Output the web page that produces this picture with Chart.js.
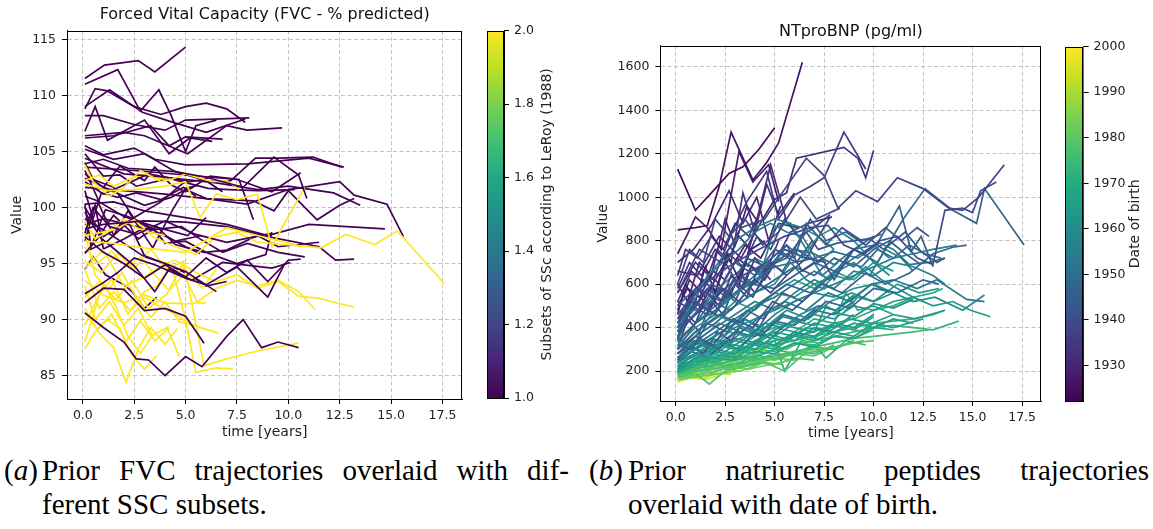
<!DOCTYPE html>
<html lang="en">
<head>
<meta charset="UTF-8">
<title>Prior trajectories</title>
<script src="https://cdn.jsdelivr.net/npm/chart.js"></script>
<style>
    body {
        margin: 0;
        width: 1153px;
        height: 529px;
        position: relative;
        overflow: hidden;
        background: #fff;
    }

    .box {
        position: absolute;
        top: 0;
        height: 445px;
    }

    .cap {
        position: absolute;
        font-family: "Liberation Serif", serif;
        font-size: 29px;
        line-height: 34px;
        color: #000;
        white-space: nowrap;
    }

    .just {
        text-align: justify;
        text-align-last: justify;
    }
</style>
</head>
<body>

<div class="box" style="left:0; width:475px"><canvas id="fvc"></canvas></div>
<div class="box" style="left:480px; width:90px"><canvas id="fvcBar"></canvas></div>
<div class="box" style="left:590px; width:462px"><canvas id="bnp"></canvas></div>
<div class="box" style="left:1058px; width:95px"><canvas id="bnpBar"></canvas></div>

<div class="cap" style="left:4px; top:453px">(<i>a</i>)</div>
<div class="cap just" style="left:42px; top:453px; width:527px">Prior FVC trajectories overlaid with dif-</div>
<div class="cap" style="left:42px; top:487px">ferent SSC subsets.</div>

<div class="cap" style="left:589px; top:453px">(<i>b</i>)</div>
<div class="cap just" style="left:628px; top:453px; width:521px">Prior natriuretic peptides trajectories</div>
<div class="cap" style="left:628px; top:487px">overlaid with date of birth.</div>

<script>
    // tick labels
    const timeTicks = [0, 2.5, 5, 7.5, 10, 12.5, 15, 17.5];
    const fvcTicks = [85, 90, 95, 100, 105, 110, 115];
    const bnpTicks = [200, 400, 600, 800, 1000, 1200, 1400, 1600];
    const subsetTicks = [1.0, 1.2, 1.4, 1.6, 1.8, 2.0];
    const birthTicks = [1930, 1940, 1950, 1960, 1970, 1980, 1990, 2000];

    // FVC (% predicted): SSc subset of each patient and its [time, value] trajectory
    const fvcSubset = [1, 1, 1, 1, 1, 1, 1, 1, 1, 1, 2, 2, 2, 1, 1, 1, 1, 1, 1, 2, 2, 2, 1, 1, 1, 1, 1, 1, 2, 2, 2, 2, 1, 1, 1, 1, 1, 1, 1, 2, 2, 2, 2, 2, 2, 2, 1, 1, 1, 1, 1, 2, 2, 1, 1, 1, 1];
    const fvcTraj = [
        [[0.1, 111.5], [1.05, 112.7], [2.7, 113.1], [3.5, 112.1], [5.0, 114.3]],
        [[0.1, 111.0], [1.7, 112.3], [2.8, 108.6], [3.7, 110.5], [4.3, 108.2], [5.0, 105.0], [5.5, 107.3], [6.5, 107.8]],
        [[0.1, 108.8], [0.6, 110.6], [1.2, 110.4], [2.5, 109.0], [3.8, 108.3], [5.0, 109.0], [6.0, 109.3], [7.0, 108.8], [7.9, 107.6]],
        [[0.1, 109.0], [1.3, 110.5], [2.9, 108.5], [4.2, 107.7], [6.0, 106.7], [7.9, 107.9]],
        [[0.1, 108.2], [1.0, 108.2], [2.5, 107.4], [4.0, 106.9], [5.0, 107.8], [8.1, 108.0]],
        [[0.1, 106.8], [0.6, 109.0], [1.2, 106.0], [2.2, 107.0], [3.0, 107.8], [4.2, 104.8], [5.2, 106.2], [6.3, 105.9]],
        [[0.1, 106.4], [2.0, 106.7], [3.0, 106.4], [5.1, 104.8], [7.0, 107.3], [8.0, 106.9], [9.7, 107.1]],
        [[0.1, 106.2], [1.5, 106.4], [3.3, 107.3], [4.2, 105.5], [5.0, 106.3], [6.8, 106.1]],
        [[0.1, 105.5], [1.0, 104.7], [2.5, 105.3], [3.5, 104.3], [5.0, 103.8], [8.0, 103.9], [11.0, 104.4], [12.7, 103.6]],
        [[0.1, 105.2], [1.5, 104.3], [3.0, 104.8], [4.5, 103.2], [6.0, 102.7], [7.8, 101.8], [9.3, 104.5], [10.5, 102.9], [10.9, 100.8]],
        [[0.1, 97.0], [1.5, 96.8], [3.0, 96.4], [5.0, 96.0], [7.0, 98.2], [8.5, 97.5], [10.5, 96.6], [11.6, 96.4], [12.8, 97.6], [14.2, 96.7], [15.3, 97.9], [17.6, 93.2]],
        [[0.1, 102.1], [1.2, 101.5], [2.5, 101.6], [4.0, 101.9], [5.0, 102.3], [5.7, 99.1], [6.5, 101.2], [7.5, 100.7], [8.5, 101.2], [9.2, 96.5], [10.0, 99.2], [10.8, 101.8]],
        [[0.1, 103.8], [0.5, 102.3], [1.3, 101.0], [2.0, 101.8], [2.8, 103.3], [3.5, 102.6], [4.3, 102.5], [5.0, 103.0], [6.3, 102.3], [7.0, 102.4], [7.6, 101.6]],
        [[0.1, 104.4], [2.0, 103.0], [4.0, 102.7], [6.5, 102.2], [8.5, 101.6], [10.0, 101.9], [12.2, 101.3], [13.5, 100.2]],
        [[0.1, 103.9], [1.0, 104.3], [2.2, 103.5], [4.5, 103.2], [6.2, 102.3], [7.2, 102.4], [8.4, 104.4], [9.5, 104.4], [11.2, 104.5], [12.6, 103.6]],
        [[0.1, 101.8], [2.0, 101.5], [4.0, 101.2], [6.0, 100.8], [8.0, 100.3], [10.0, 101.6], [12.5, 102.3], [13.2, 101.1], [14.8, 100.3], [15.6, 97.4]],
        [[0.1, 100.3], [1.5, 100.5], [3.0, 99.7], [5.0, 99.1], [7.0, 98.5], [9.0, 97.5], [11.0, 98.5], [14.7, 98.1]],
        [[0.1, 98.1], [1.0, 98.5], [3.0, 98.8], [5.0, 98.7], [7.0, 98.3], [9.0, 97.4], [11.5, 96.5], [12.3, 95.3], [13.2, 95.4]],
        [[0.1, 97.7], [0.5, 100.0], [1.3, 98.3], [2.6, 97.6], [4.0, 98.8], [5.5, 97.6], [7.0, 96.9], [9.2, 97.7]],
        [[0.1, 102.4], [0.8, 102.9], [1.5, 101.9], [2.3, 102.6], [3.1, 103.0], [3.8, 102.3], [4.8, 102.8]],
        [[0.1, 97.5], [1.5, 98.0], [2.5, 98.9], [3.5, 97.3], [4.5, 96.5], [5.5, 95.8], [6.5, 97.4], [7.5, 97.8], [8.5, 96.9], [9.8, 96.7], [10.8, 96.5]],
        [[0.1, 98.8], [0.6, 97.2], [1.2, 97.8], [2.0, 99.0], [2.6, 98.2], [3.2, 97.8], [4.0, 97.5]],
        [[0.1, 92.3], [1.0, 93.3], [1.7, 94.2], [2.5, 95.5], [3.5, 94.9], [5.0, 93.7], [6.0, 93.1], [7.5, 94.7], [9.0, 92.0], [9.8, 94.9]],
        [[0.1, 90.6], [1.0, 89.3], [2.0, 88.0], [2.6, 86.5], [3.2, 86.4], [4.0, 85.0], [5.0, 86.7], [5.8, 85.8], [7.0, 88.5], [7.8, 90.0], [8.7, 87.5], [9.5, 88.0], [10.5, 87.5]],
        [[0.1, 91.5], [1.0, 92.8], [2.0, 92.7], [3.0, 90.8], [4.0, 91.0], [5.0, 90.3], [5.9, 87.9]],
        [[0.1, 97.4], [1.0, 96.0], [2.0, 95.0], [3.0, 93.7], [4.0, 94.9], [5.0, 93.8], [6.0, 95.5], [7.0, 94.2], [8.0, 95.3], [9.0, 93.4], [10.0, 95.3], [10.6, 95.4]],
        [[0.1, 103.3], [0.8, 100.5], [2.0, 99.2], [3.5, 98.3], [5.1, 97.5], [6.0, 99.1]],
        [[0.1, 100.0], [1.0, 97.4], [2.2, 98.8], [3.0, 95.7], [4.0, 95.0], [5.0, 94.3], [6.5, 92.5]],
        [[0.1, 94.6], [1.0, 96.2], [2.0, 93.0], [3.0, 93.8], [4.0, 95.0], [4.5, 95.3], [5.5, 94.2], [6.5, 93.4], [7.5, 94.0], [8.5, 92.8], [9.5, 93.4], [10.5, 92.1], [11.5, 91.9], [13.2, 91.1]],
        [[0.1, 93.5], [1.0, 92.2], [2.0, 91.5], [3.0, 92.2], [4.0, 91.5], [5.0, 91.4], [5.5, 91.5], [6.5, 92.8], [7.5, 93.5], [8.5, 93.0], [9.5, 93.5], [10.5, 92.5], [11.3, 90.9]],
        [[0.1, 88.0], [0.5, 90.4], [1.0, 93.3], [1.6, 91.2], [2.2, 88.5], [2.8, 87.0], [3.4, 88.6], [4.1, 89.3], [4.7, 86.7]],
        [[0.1, 87.4], [0.6, 88.9], [1.2, 90.0], [1.8, 89.2], [2.4, 86.8], [3.0, 85.6], [3.6, 86.8]],
        [[0.1, 102.3], [1.0, 101.2], [2.0, 102.0], [3.2, 103.0], [5.2, 102.3], [5.9, 102.5], [6.8, 101.4]],
        [[0.1, 99.6], [0.8, 97.5], [1.5, 99.3], [2.7, 97.2], [3.6, 98.3], [4.5, 96.7], [5.9, 96.0], [7.0, 96.2], [8.5, 97.5], [9.5, 96.5], [11.5, 96.9]],
        [[0.1, 103.0], [1.0, 101.8], [1.8, 103.7], [3.0, 102.4], [3.5, 103.6], [4.3, 102.0], [5.0, 101.4], [6.2, 102.8], [7.6, 102.5], [8.3, 98.9]],
        [[0.1, 102.6], [1.4, 101.5], [3.0, 100.2], [4.3, 100.9], [5.0, 101.6], [6.0, 100.8], [8.3, 100.6], [9.3, 99.7], [10.0, 101.5], [11.4, 98.9], [12.5, 100.2], [13.2, 100.8]],
        [[0.1, 101.0], [0.7, 100.6], [1.5, 97.5], [2.2, 99.7], [3.4, 96.4], [4.4, 99.9], [5.0, 101.7], [5.6, 102.0]],
        [[0.1, 95.9], [0.8, 97.4], [1.4, 96.5], [2.5, 94.8], [3.5, 92.5], [4.2, 94.5], [5.3, 93.5], [6.8, 95.1], [9.2, 94.6], [10.1, 95.1]],
        [[0.1, 104.0], [0.5, 102.5], [1.5, 101.8], [2.5, 99.0], [3.5, 98.0], [4.0, 96.8], [5.0, 97.0], [6.0, 96.0], [7.5, 95.0], [8.9, 95.8], [9.2, 97.8]],
        [[0.1, 91.0], [0.8, 88.8], [1.5, 87.5], [2.1, 84.4], [2.7, 87.4], [3.3, 89.3], [4.0, 87.8], [4.6, 89.2]],
        [[0.1, 89.5], [0.8, 92.2], [1.4, 93.6], [2.2, 90.5], [3.0, 92.5], [3.6, 93.0], [4.3, 94.9], [5.0, 90.0], [5.5, 85.3], [6.5, 85.7], [7.3, 85.6]],
        [[0.1, 92.0], [0.8, 93.4], [1.6, 91.8], [2.4, 93.5], [3.2, 91.0], [4.1, 92.3], [4.8, 94.8], [5.8, 92.8], [6.5, 94.5]],
        [[0.1, 95.2], [0.9, 94.2], [1.7, 95.9], [2.5, 94.5], [3.3, 96.3], [4.1, 94.5], [4.9, 95.2], [5.9, 85.9], [7.0, 86.5], [8.5, 87.2], [10.5, 87.9]],
        [[0.1, 97.8], [0.6, 94.0], [1.2, 92.6], [1.9, 94.2], [2.6, 92.0], [3.3, 90.2], [4.0, 91.6], [4.7, 89.8], [5.5, 89.5]],
        [[0.1, 96.5], [0.7, 95.0], [1.4, 96.1], [2.1, 94.7], [2.8, 95.6], [3.5, 94.0], [4.2, 92.6], [4.9, 94.0], [5.6, 91.5], [6.0, 91.5]],
        [[0.1, 90.7], [0.7, 89.1], [1.4, 90.5], [2.1, 88.0], [2.8, 89.9], [3.5, 88.1], [4.2, 89.3]],
        [[0.1, 100.3], [0.4, 96.5], [1.1, 99.8], [2.2, 99.2], [3.2, 98.2], [4.5, 97.0], [5.8, 97.5]],
        [[0.1, 96.0], [1.2, 97.0], [2.4, 99.0], [3.8, 100.5], [4.7, 101.9], [5.1, 102.5]],
        [[0.1, 99.0], [1.0, 98.0], [2.0, 96.8], [3.0, 95.6], [4.0, 95.0], [5.2, 94.0], [6.0, 93.0], [7.0, 93.4]],
        [[0.1, 103.6], [2.5, 103.3], [5.0, 102.9], [7.5, 102.5], [9.2, 101.4], [10.6, 103.1]],
        [[0.1, 101.5], [0.5, 99.0], [0.9, 101.3], [1.7, 100.9], [2.6, 101.3], [3.8, 100.7], [4.9, 101.8], [5.5, 101.0]],
        [[0.1, 94.5], [0.8, 91.0], [1.5, 92.5], [2.3, 90.8], [3.0, 92.0], [3.7, 91.2], [4.5, 90.5], [5.2, 89.6], [6.6, 88.8]],
        [[0.1, 93.0], [0.6, 90.0], [1.3, 91.6], [2.0, 89.5], [2.7, 91.0], [3.4, 88.5]],
        [[0.1, 97.0], [0.6, 100.2], [1.0, 96.3], [2.0, 97.2], [2.8, 98.0], [4.0, 97.5], [5.0, 96.5], [5.7, 95.9]],
        [[0.1, 94.5], [0.5, 95.6], [1.1, 94.0], [2.0, 93.1], [2.4, 92.5], [3.0, 91.0], [3.6, 92.0]],
        [[0.1, 104.8], [1.0, 102.8], [1.8, 102.9], [2.6, 101.9], [4.2, 102.6], [6.1, 101.7], [7.1, 101.6], [8.5, 101.5], [10.3, 101.6]],
        [[0.1, 98.5], [1.0, 99.0], [3.3, 98.0], [4.8, 98.3], [5.7, 97.2], [6.8, 96.0], [8.0, 96.8], [9.5, 96.0], [10.8, 95.6]]
    ];

    // NTproBNP (pg/ml): date of birth of each patient and its [time, value] trajectory
    const bnpBirth = [1938, 1940, 1942, 1944, 1946, 1948, 1939, 1941, 1943, 1945, 1947, 1949, 1937,
        1952, 1954, 1956, 1958, 1960, 1962, 1964, 1966, 1953, 1955, 1957, 1959, 1961, 1963, 1965, 1967,
        1928, 1938, 1941, 1945, 1950, 1936, 1933, 1947, 1958, 1962, 1968, 1951,
        1943, 1946, 1950, 1955, 1966, 1957,
        1924, 1926, 1929, 1931, 1933, 1935, 1932, 1930, 1934, 1936,
        1930, 1934, 1937, 1939, 1935, 1931,
        1970, 1972, 1974, 1976, 1978, 1980, 1982, 1985, 1969, 1971, 1973, 1975, 1977, 1979, 1983, 1987, 1990, 1995, 1998,
        1960, 1963, 1966, 1972, 1975, 1978, 1981, 1984, 1988, 1992];
    const bnpTraj = [
        [[0.1, 560], [1.2, 760], [2.3, 700], [3.3, 860], [4.5, 900], [5.3, 1010], [6.6, 1180], [7.5, 1100], [8.2, 950], [9.1, 1030], [10.2, 980], [11.2, 1090], [12.5, 1040], [13.8, 950], [14.5, 940], [15.3, 1000], [16.6, 1150]],
        [[0.1, 420], [1.0, 560], [2.0, 640], [3.0, 700], [4.2, 760], [5.5, 820], [6.8, 860], [7.7, 870], [8.5, 780], [9.5, 740], [10.3, 800], [11.2, 820], [12.2, 720], [13.0, 690], [13.6, 940], [14.5, 950], [15.0, 930], [15.4, 1030], [16.2, 1070]],
        [[0.1, 460], [1.2, 580], [2.3, 520], [3.4, 640], [4.6, 700], [5.6, 780], [6.4, 660], [7.4, 720], [8.0, 620], [9.0, 760], [10.0, 820]],
        [[0.1, 400], [0.9, 480], [1.8, 600], [2.6, 560], [3.6, 720], [4.6, 680], [5.6, 720], [6.6, 840], [7.2, 760], [8.2, 790], [9.8, 810], [10.5, 760], [11.6, 840], [12.4, 750], [13.2, 700], [13.6, 720]],
        [[0.1, 340], [1.0, 420], [1.8, 520], [2.8, 480], [3.9, 600], [5.0, 580], [6.0, 640], [7.0, 700], [8.0, 660], [9.0, 720], [10.2, 790], [11.3, 960], [11.9, 750], [12.4, 820], [13.0, 680]],
        [[0.1, 300], [1.0, 380], [2.2, 460], [3.2, 420], [4.4, 520], [5.6, 600], [6.8, 560], [7.9, 640], [9.0, 760], [10.2, 700], [11.5, 900], [12.6, 1040], [14.0, 940], [15.2, 880], [15.6, 1040], [17.6, 780]],
        [[0.1, 600], [0.7, 760], [1.4, 700], [2.0, 900], [2.7, 820], [3.5, 900], [4.4, 780], [5.2, 840], [6.3, 1000], [7.1, 900], [8.3, 950]],
        [[0.1, 360], [1.0, 520], [2.0, 460], [2.9, 620], [3.9, 540], [4.8, 700], [5.6, 640], [6.6, 720], [7.6, 700]],
        [[0.1, 280], [1.0, 360], [1.9, 320], [2.9, 440], [3.9, 400], [4.9, 520], [5.9, 480], [6.9, 560]],
        [[0.1, 500], [1.0, 580], [2.0, 540], [3.0, 700], [4.0, 640], [5.0, 760], [6.0, 720], [6.6, 880], [7.6, 780], [8.4, 860], [9.4, 800], [10.4, 830]],
        [[0.1, 320], [0.8, 300], [1.6, 420], [2.6, 380], [3.6, 480], [4.4, 440], [5.4, 560], [6.4, 520], [7.4, 600], [8.4, 560], [9.6, 650], [10.6, 600], [11.8, 650], [13.0, 740], [14.0, 770], [14.7, 780]],
        [[0.1, 260], [1.2, 340], [2.2, 300], [3.2, 400], [4.3, 360], [5.4, 460], [6.5, 430], [7.6, 520], [8.8, 490], [10.0, 580], [11.2, 560], [12.5, 620], [13.3, 600]],
        [[0.1, 440], [0.8, 520], [1.6, 480], [2.4, 580], [3.2, 520], [4.0, 620], [4.8, 560], [5.6, 640]],
        [[0.1, 300], [1.0, 420], [2.0, 480], [3.0, 560], [4.0, 620], [5.0, 680], [6.0, 700], [7.0, 720], [8.0, 750], [9.2, 720], [10.3, 790], [11.0, 760], [11.8, 690], [12.8, 700], [13.6, 720]],
        [[0.1, 260], [1.1, 340], [2.2, 420], [3.3, 380], [4.4, 460], [5.5, 520], [6.6, 480], [7.7, 560], [8.8, 520], [9.9, 600], [11.0, 620], [12.2, 580], [13.2, 620], [14.7, 530], [15.6, 520]],
        [[0.1, 240], [1.0, 300], [2.0, 360], [3.0, 420], [4.0, 380], [5.0, 460], [6.0, 520], [7.0, 560], [8.0, 600], [9.0, 640], [10.0, 680], [11.0, 720], [12.0, 740], [13.0, 760], [14.2, 780]],
        [[0.1, 280], [1.0, 360], [1.8, 460], [2.6, 520], [3.4, 580], [4.2, 620], [5.0, 860], [5.7, 880], [6.4, 860], [7.2, 820], [8.0, 860], [9.0, 800], [10.0, 700], [10.8, 640]],
        [[0.1, 220], [1.0, 280], [2.0, 340], [3.0, 400], [4.0, 440], [5.0, 480], [6.0, 520], [7.0, 560], [8.0, 540], [9.0, 580], [10.0, 600], [11.0, 560], [12.0, 520], [13.1, 540], [14.5, 480], [15.6, 550]],
        [[0.1, 240], [1.2, 320], [2.3, 380], [3.4, 440], [4.5, 400], [5.6, 480], [6.7, 440], [7.8, 520], [8.9, 560], [10.0, 520], [11.2, 600], [12.3, 560], [13.3, 580]],
        [[0.1, 200], [1.0, 260], [2.0, 300], [3.0, 340], [4.0, 380], [5.0, 360], [6.0, 420], [7.0, 460], [8.0, 440], [9.0, 500], [10.0, 480], [11.0, 520], [12.0, 540], [13.0, 500], [14.0, 520], [14.9, 480], [15.9, 450]],
        [[0.1, 220], [1.1, 260], [2.2, 320], [3.3, 300], [4.4, 360], [5.5, 340], [6.6, 400], [7.7, 380], [8.8, 440], [9.9, 420], [11.0, 460], [12.1, 440], [13.6, 480]],
        [[0.1, 340], [0.8, 500], [1.6, 640], [2.4, 700], [3.2, 760], [4.0, 840], [4.8, 880], [5.6, 840], [6.4, 820], [7.2, 700], [8.0, 760]],
        [[0.1, 380], [1.0, 560], [2.0, 680], [3.0, 800], [4.0, 860], [5.0, 900], [5.8, 880], [6.6, 760], [7.4, 640], [8.2, 700]],
        [[0.1, 300], [1.0, 380], [2.0, 440], [3.0, 500], [4.0, 560], [5.0, 600], [5.8, 700], [6.6, 620], [7.4, 580], [8.2, 660], [9.0, 700], [9.8, 640], [10.6, 760], [11.4, 720], [12.0, 660]],
        [[0.1, 260], [0.9, 340], [1.8, 300], [2.7, 380], [3.6, 360], [4.5, 420], [5.4, 400], [6.3, 460], [7.2, 500], [8.1, 480], [9.0, 540], [9.9, 600], [10.8, 560]],
        [[0.1, 320], [1.0, 400], [2.0, 460], [3.0, 420], [4.0, 500], [5.0, 560], [6.0, 540], [7.0, 600], [8.0, 640], [8.8, 620], [9.6, 680], [10.4, 620], [11.2, 580], [12.0, 540], [12.5, 520]],
        [[0.1, 260], [1.0, 300], [2.0, 340], [3.0, 320], [4.0, 380], [5.0, 420], [6.0, 400], [7.0, 380], [7.6, 500], [8.4, 460], [9.2, 540], [10.0, 520], [11.0, 560]],
        [[0.1, 240], [1.0, 280], [2.0, 260], [3.0, 320], [4.0, 300], [5.0, 360], [6.0, 340], [7.0, 400], [8.0, 380], [9.0, 420], [10.0, 400], [11.0, 440], [12.0, 420]],
        [[0.1, 200], [1.0, 240], [2.0, 280], [3.0, 260], [4.0, 320], [5.0, 300], [6.0, 360], [7.0, 340], [8.0, 380], [9.0, 360], [10.0, 420], [11.0, 400], [12.5, 440]],
        [[0.1, 460], [0.5, 600], [1.0, 520], [1.5, 680], [2.0, 560], [2.6, 740], [3.2, 620], [3.8, 760], [4.5, 800]],
        [[0.1, 300], [0.6, 440], [1.2, 380], [1.8, 520], [2.4, 460], [3.0, 600], [3.6, 540], [4.2, 680], [4.8, 620]],
        [[0.1, 250], [0.7, 320], [1.4, 280], [2.1, 380], [2.8, 340], [3.5, 440], [4.2, 400], [4.9, 500]],
        [[0.1, 240], [0.8, 290], [1.6, 260], [2.4, 330], [3.2, 300], [4.0, 380], [4.8, 350], [5.6, 420]],
        [[0.1, 280], [1.0, 330], [2.0, 310], [3.0, 380], [4.0, 360], [5.0, 430], [6.0, 410], [7.0, 480], [8.0, 460], [9.0, 520]],
        [[0.1, 350], [0.5, 470], [1.0, 420], [1.6, 560], [2.2, 500], [2.8, 640], [3.4, 580], [4.0, 720], [4.6, 660], [5.2, 800]],
        [[0.1, 580], [0.7, 700], [1.3, 640], [2.0, 760], [2.6, 700], [3.2, 820], [3.8, 760]],
        [[0.1, 400], [0.6, 500], [1.2, 470], [1.9, 580], [2.6, 540], [3.3, 640], [4.0, 600], [4.7, 700], [5.4, 660], [6.1, 760], [6.8, 720]],
        [[0.1, 250], [0.9, 300], [1.8, 350], [2.7, 330], [3.6, 400], [4.5, 380], [5.4, 450], [6.3, 430], [7.2, 500], [8.1, 480], [9.0, 550]],
        [[0.1, 210], [1.0, 260], [2.0, 300], [3.0, 280], [4.0, 340], [5.0, 320], [6.0, 380], [7.0, 360], [8.0, 420], [9.0, 400], [10.0, 460]],
        [[0.1, 190], [1.0, 230], [2.0, 260], [3.0, 250], [4.0, 290], [5.0, 280], [6.0, 330], [7.0, 310], [8.0, 360], [9.0, 350], [10.0, 400], [11.0, 390]],
        [[0.1, 330], [1.0, 420], [2.0, 500], [3.0, 560], [4.0, 640], [5.0, 700], [6.0, 760], [7.0, 740], [8.0, 690], [9.0, 760], [10.0, 780], [10.8, 720]],
        [[0.1, 380], [1.0, 460], [2.0, 540], [3.0, 620], [4.0, 600], [5.0, 700], [6.0, 760], [6.8, 900], [7.6, 800], [8.6, 840], [9.6, 780], [10.6, 860], [11.4, 800], [12.2, 860], [12.8, 820]],
        [[0.1, 300], [1.0, 360], [2.0, 420], [3.0, 500], [4.0, 560], [5.0, 620], [6.0, 680], [7.0, 640], [8.0, 720], [9.0, 680], [10.0, 760], [10.8, 800], [11.6, 740], [12.4, 690]],
        [[0.1, 260], [1.0, 320], [2.0, 380], [3.0, 440], [4.0, 500], [5.0, 540], [6.0, 600], [7.0, 660], [7.8, 620], [8.6, 700], [9.4, 680], [10.2, 760], [11.0, 720], [11.8, 780], [12.6, 740], [13.4, 720]],
        [[0.1, 280], [1.0, 340], [2.0, 400], [3.0, 460], [4.0, 520], [5.0, 480], [6.0, 560], [7.0, 620], [8.0, 580], [9.0, 660], [10.0, 640], [11.0, 700], [12.0, 680], [13.0, 640], [13.6, 600]],
        [[0.1, 300], [1.0, 380], [2.0, 440], [3.0, 520], [4.0, 480], [5.0, 560], [6.0, 620], [7.0, 580], [8.0, 660], [9.0, 620], [10.0, 700], [11.0, 660]],
        [[0.1, 350], [0.8, 450], [1.6, 520], [2.4, 600], [3.2, 660], [4.0, 720], [4.8, 680], [5.6, 780], [6.4, 720], [7.2, 820], [8.0, 760]],
        [[0.1, 1130], [1.0, 940], [2.0, 1040], [2.7, 1110], [3.4, 1140], [4.2, 1220], [5.0, 1320]],
        [[0.1, 850], [1.0, 860], [1.6, 870], [2.2, 1050], [2.8, 1300], [3.4, 1180], [3.9, 1080], [4.6, 1160], [5.2, 1250], [6.4, 1622]],
        [[0.1, 740], [0.6, 830], [1.0, 910], [1.6, 860], [2.3, 760], [3.2, 1210], [3.9, 1070], [4.7, 1150], [5.2, 980]],
        [[0.1, 700], [0.9, 760], [1.8, 870], [2.7, 1030], [3.4, 880], [4.1, 1000], [4.7, 800], [5.3, 960]],
        [[0.1, 660], [1.1, 640], [2.2, 820], [3.3, 720], [4.4, 900], [5.0, 990], [5.6, 1020], [6.1, 1180], [8.5, 1230], [9.2, 1180], [9.6, 1090], [10.0, 1215]],
        [[0.1, 560], [1.0, 700], [1.9, 620], [2.8, 830], [3.6, 980], [4.6, 1120], [5.2, 900], [6.0, 1010], [6.8, 1050], [7.5, 1090], [8.5, 1300], [9.6, 1130]],
        [[0.1, 480], [0.7, 620], [1.5, 540], [2.5, 700], [3.2, 590], [4.0, 860], [4.8, 1150], [5.6, 890]],
        [[0.1, 420], [0.9, 560], [1.8, 500], [2.6, 640], [3.5, 780], [4.3, 720], [5.2, 880], [6.2, 860]],
        [[0.1, 380], [1.0, 460], [2.0, 620], [2.7, 540], [3.5, 700], [4.4, 650], [5.5, 760], [6.6, 720], [7.8, 910]],
        [[0.1, 520], [0.8, 480], [1.6, 580], [2.4, 520], [3.3, 640], [4.0, 560], [5.0, 700], [5.8, 840], [6.7, 880], [7.9, 910]],
        [[0.1, 600], [0.6, 520], [1.2, 700], [1.8, 640], [2.5, 900], [3.0, 780], [3.6, 960], [4.2, 880]],
        [[0.1, 520], [0.8, 660], [1.5, 600], [2.1, 760], [2.8, 700], [3.4, 1020], [4.0, 840], [4.6, 1060], [5.2, 920], [6.0, 1020]],
        [[0.1, 440], [0.7, 540], [1.4, 620], [2.0, 560], [2.7, 740], [3.4, 680], [4.1, 820], [4.8, 760], [5.5, 900], [6.2, 820], [7.0, 860], [7.8, 920]],
        [[0.1, 380], [0.8, 500], [1.6, 460], [2.3, 580], [3.0, 520], [3.8, 680], [4.5, 620], [5.3, 740], [6.1, 700], [6.9, 800]],
        [[0.1, 640], [0.5, 760], [1.1, 720], [1.8, 820], [2.4, 760], [3.0, 880], [3.7, 820], [4.3, 940]],
        [[0.1, 500], [0.6, 580], [1.2, 540], [1.9, 660], [2.5, 620], [3.1, 720], [3.7, 680]],
        [[0.1, 220], [1.0, 240], [2.0, 260], [3.0, 290], [4.0, 320], [5.0, 340], [6.0, 360], [7.0, 380], [8.0, 420], [9.0, 440], [10.0, 480], [11.0, 500], [12.0, 540], [13.0, 560], [13.5, 580]],
        [[0.1, 200], [1.0, 220], [2.0, 250], [3.0, 280], [4.0, 300], [5.0, 320], [6.0, 340], [7.0, 360], [8.0, 380], [9.0, 400], [10.0, 420], [11.0, 430], [12.0, 440], [13.0, 460], [13.6, 480]],
        [[0.1, 190], [1.0, 210], [2.0, 230], [3.0, 250], [4.0, 270], [5.0, 300], [6.0, 320], [7.0, 340], [8.0, 360], [9.0, 380], [10.0, 400], [11.0, 410], [12.0, 400], [13.0, 390], [14.3, 430]],
        [[0.1, 180], [1.0, 200], [2.0, 210], [3.0, 230], [4.0, 250], [5.0, 270], [6.0, 290], [7.0, 310], [8.0, 330], [9.0, 350], [10.0, 360], [11.0, 370], [12.0, 380], [12.8, 390]],
        [[0.1, 170], [1.0, 190], [1.7, 140], [2.5, 200], [3.5, 220], [4.5, 240], [5.5, 200], [6.5, 280], [7.5, 300], [8.5, 320], [9.5, 340]],
        [[0.1, 170], [1.0, 180], [2.0, 200], [3.0, 220], [4.0, 240], [5.0, 260], [6.0, 280], [7.0, 300], [8.0, 310], [9.0, 330], [10.0, 340]],
        [[0.1, 160], [0.8, 170], [1.6, 180], [2.4, 190], [3.2, 200], [4.0, 215], [4.8, 230], [5.6, 245], [6.4, 260]],
        [[0.1, 180], [0.7, 200], [1.4, 190], [2.1, 220], [2.8, 210], [3.5, 230], [4.2, 250], [4.9, 260]],
        [[0.1, 240], [1.0, 280], [2.0, 320], [3.0, 300], [4.0, 360], [5.0, 400], [6.0, 380], [7.0, 440], [8.0, 420], [8.6, 560], [9.2, 480], [10.0, 500], [11.0, 460]],
        [[0.1, 210], [1.0, 260], [2.0, 240], [3.0, 300], [4.0, 280], [5.0, 340], [5.5, 200], [6.5, 360], [7.5, 340], [8.5, 400], [9.5, 380], [10.5, 420]],
        [[0.1, 230], [1.0, 250], [2.0, 240], [3.0, 270], [4.0, 260], [5.0, 300], [6.0, 280], [7.0, 320], [7.6, 260], [8.6, 340], [9.6, 320]],
        [[0.1, 190], [1.0, 230], [2.0, 220], [3.0, 260], [4.0, 250], [5.0, 280], [6.0, 270], [7.0, 310], [8.0, 300], [9.0, 340]],
        [[0.1, 200], [0.8, 240], [1.6, 260], [2.4, 250], [3.2, 290], [4.0, 280], [4.8, 320], [5.6, 300], [6.4, 340], [7.2, 330]],
        [[0.1, 190], [1.0, 210], [2.0, 230], [3.0, 220], [4.0, 260], [5.0, 250], [6.0, 280], [7.0, 270], [8.0, 310]],
        [[0.1, 170], [0.9, 200], [1.8, 190], [2.7, 220], [3.6, 210], [4.5, 240], [5.4, 230]],
        [[0.1, 190], [0.8, 210], [1.6, 200], [2.4, 230], [3.2, 250], [4.0, 280], [4.6, 300]],
        [[0.1, 200], [0.9, 220], [1.8, 250], [2.6, 270], [3.4, 280], [4.2, 300], [5.0, 320], [5.8, 350]],
        [[0.1, 150], [0.8, 170], [1.5, 160], [2.2, 180]],
        [[0.1, 180], [0.6, 210], [1.2, 190], [1.8, 200]],
        [[0.1, 230], [1.0, 270], [2.0, 310], [3.0, 350], [4.0, 330], [5.0, 390], [6.0, 430], [7.0, 410], [8.0, 470], [9.0, 450], [10.0, 510], [11.0, 490], [12.0, 530]],
        [[0.1, 210], [1.0, 250], [2.0, 290], [3.0, 270], [4.0, 330], [5.0, 310], [6.0, 370], [7.0, 350], [8.0, 410], [9.0, 390], [10.0, 450]],
        [[0.1, 250], [1.0, 300], [2.0, 280], [3.0, 340], [4.0, 320], [5.0, 380], [6.0, 360], [7.0, 420], [8.0, 400], [9.0, 460]],
        [[0.1, 210], [1.0, 230], [2.0, 270], [3.0, 260], [4.0, 300], [5.0, 290], [6.0, 330], [7.0, 320], [8.0, 360], [9.0, 350], [10.0, 390]],
        [[0.1, 200], [1.0, 220], [2.0, 240], [3.0, 230], [4.0, 270], [5.0, 260], [6.0, 290], [7.0, 280], [8.0, 320]],
        [[0.1, 180], [1.0, 200], [2.0, 220], [3.0, 210], [4.0, 240], [5.0, 230], [6.0, 260], [7.0, 250]],
        [[0.1, 190], [1.0, 220], [2.0, 210], [3.0, 240], [4.0, 230], [5.0, 260], [6.0, 250]],
        [[0.1, 200], [0.8, 230], [1.6, 220], [2.4, 250], [3.2, 240], [4.0, 270]],
        [[0.1, 170], [0.8, 190], [1.6, 180], [2.4, 210], [3.2, 200]],
        [[0.1, 160], [0.7, 175], [1.4, 165], [2.1, 190], [2.8, 185]]
    ];

    Chart.defaults.font.family = '"DejaVu Sans", sans-serif';
    Chart.defaults.font.size = 12.5;
    Chart.defaults.color = '#222';
    Chart.defaults.animation = false;

    // viridis colormap
    const viridisStops = ['#440154', '#482475', '#414487', '#355f8d', '#2a788e', '#21918c',
        '#22a884', '#44bf70', '#7ad151', '#bddf26', '#fde725'];

    function hexRgb(h) {
        return [1, 3, 5].map(i => parseInt(h.substr(i, 2), 16));
    }

    function viridis(f) {
        f = Math.min(1, Math.max(0, f)) * 10;
        const i = Math.min(9, Math.floor(f));
        const a = hexRgb(viridisStops[i]), b = hexRgb(viridisStops[i + 1]);
        const t = f - i;
        const c = a.map((v, k) => Math.round(v + (b[k] - v) * t));
        return `rgb(${c[0]},${c[1]},${c[2]})`;
    }

    // black box round the plot area (matplotlib spines)
    const frame = {
        id: 'frame',
        afterDraw(chart) {
            const a = chart.chartArea, ctx = chart.ctx;
            ctx.save();
            ctx.strokeStyle = '#000';
            ctx.lineWidth = 1;
            ctx.strokeRect(Math.round(a.left) + 0.5, Math.round(a.top) + 0.5,
                Math.round(a.width) - 1, Math.round(a.height));
            ctx.restore();
        }
    };

    // title centred over the plot area, like matplotlib (the title plugin only keeps the room)
    const plotTitle = {
        id: 'plotTitle',
        afterDraw(chart, args, opts) {
            const a = chart.chartArea, ctx = chart.ctx;
            ctx.save();
            ctx.fillStyle = '#111';
            ctx.font = '16px "DejaVu Sans", sans-serif';
            ctx.textAlign = 'center';
            ctx.textBaseline = 'middle';
            ctx.fillText(opts.text, (a.left + a.right) / 2, opts.y);
            ctx.restore();
        }
    };

    function fixedTicks(values) {
        return scale => { scale.ticks = values.map(v => ({ value: v })); };
    }

    function trajChart(id, traj, colorOf, yMin, yMax, yTicks, title, titleY, topRoom, yW, padRight, xH, xTitleBottom, yTitleTop) {
        new Chart(document.getElementById(id), {
            type: 'line',
            data: {
                datasets: traj.map((pts, i) => ({
                    data: pts.map(p => ({ x: p[0], y: p[1] })),
                    borderColor: colorOf(i),
                    borderWidth: 1.7,
                    pointRadius: 0,
                    tension: 0,
                    fill: false
                }))
            },
            options: {
                responsive: true,
                maintainAspectRatio: false,
                events: [],
                layout: { padding: { left: 0, right: padRight, top: topRoom, bottom: 0 } },
                plugins: {
                    legend: { display: false },
                    tooltip: { enabled: false },
                    title: { display: false },
                    plotTitle: { text: title, y: titleY }
                },
                scales: {
                    x: {
                        type: 'linear',
                        min: -0.77,
                        max: 18.47,
                        afterBuildTicks: fixedTicks(timeTicks),
                        afterFit: s => { s.height = xH; },
                        grid: { color: '#c4c4c4', tickColor: '#000', tickLength: 5, lineWidth: 1 },
                        border: { display: true, color: '#000', dash: [4, 2.5] },
                        ticks: { padding: 4, maxRotation: 0, callback: v => v.toFixed(1) },
                        title: { display: true, text: 'time [years]', font: { size: 14 }, padding: { top: 0, bottom: xTitleBottom } }
                    },
                    y: {
                        min: yMin,
                        max: yMax,
                        afterBuildTicks: fixedTicks(yTicks),
                        afterFit: s => { s.width = yW; },
                        grid: { color: '#c4c4c4', tickColor: '#000', tickLength: 5, lineWidth: 1 },
                        border: { display: true, color: '#000', dash: [4, 2.5] },
                        ticks: { padding: 6, callback: v => String(v) },
                        title: { display: true, text: 'Value', font: { size: 14 }, padding: { top: yTitleTop, bottom: 0 } }
                    }
                }
            },
            plugins: [frame, plotTitle]
        });
    }

    function colorbar(id, lo, hi, ticks, fmt, label, padTop, padBottom, padLeft, axisW, labelX) {
        const cbLabel = {
            id: 'cbLabel',
            afterDraw(chart) {
                const a = chart.chartArea, ctx = chart.ctx;
                ctx.save();
                ctx.translate(labelX, (a.top + a.bottom) / 2);
                ctx.rotate(-Math.PI / 2);
                ctx.fillStyle = '#222';
                ctx.font = '14px "DejaVu Sans", sans-serif';
                ctx.textAlign = 'center';
                ctx.textBaseline = 'middle';
                ctx.fillText(label, 0, 0);
                ctx.restore();
            }
        };
        new Chart(document.getElementById(id), {
            type: 'bar',
            data: {
                labels: [''],
                datasets: [{
                    data: [[lo, hi]],
                    backgroundColor: c => {
                        const a = c.chart.chartArea;
                        if (!a) return viridisStops[5];
                        const g = c.chart.ctx.createLinearGradient(0, a.bottom, 0, a.top);
                        viridisStops.forEach((s, i) => g.addColorStop(i / 10, s));
                        return g;
                    },
                    borderWidth: 0,
                    barPercentage: 1,
                    categoryPercentage: 1
                }]
            },
            options: {
                responsive: true,
                maintainAspectRatio: false,
                events: [],
                layout: { padding: { top: padTop, bottom: padBottom, left: padLeft, right: 0 } },
                plugins: { legend: { display: false }, tooltip: { enabled: false } },
                scales: {
                    x: { display: false },
                    y: {
                        position: 'right',
                        min: lo,
                        max: hi,
                        afterBuildTicks: fixedTicks(ticks),
                        afterFit: s => { s.width = axisW; },
                        grid: { drawOnChartArea: false, tickColor: '#000', tickLength: 5 },
                        border: { display: true, color: '#000' },
                        ticks: { padding: 5, callback: fmt }
                    }
                }
            },
            plugins: [frame, cbLabel]
        });
    }

    trajChart('fvc', fvcTraj, i => viridis(fvcSubset[i] - 1), 82.92, 115.77, fvcTicks,
        'Forced Vital Capacity (FVC - % predicted)', 15, 30.7, 67, 12.6, 46, 4, 8.5);
    trajChart('bnp', bnpTraj, i => viridis((bnpBirth[i] - 1922.2) / (2000 - 1922.2)), 62, 1698, bnpTicks,
        'NTproBNP (pg/ml)', 32, 45.7, 70.4, 10.7, 44, 3.3, 4.5);

    colorbar('fvcBar', 1, 2, subsetTicks, v => v.toFixed(1), 'Subsets of SSc according to LeRoy (1988)',
        30.7, 47, 7, 66, 67.6);
    colorbar('bnpBar', 1922.2, 2000, birthTicks, v => String(v), 'Date of birth',
        46.7, 44, 7.4, 69.4, 77.6);
</script>
</body>
</html>
